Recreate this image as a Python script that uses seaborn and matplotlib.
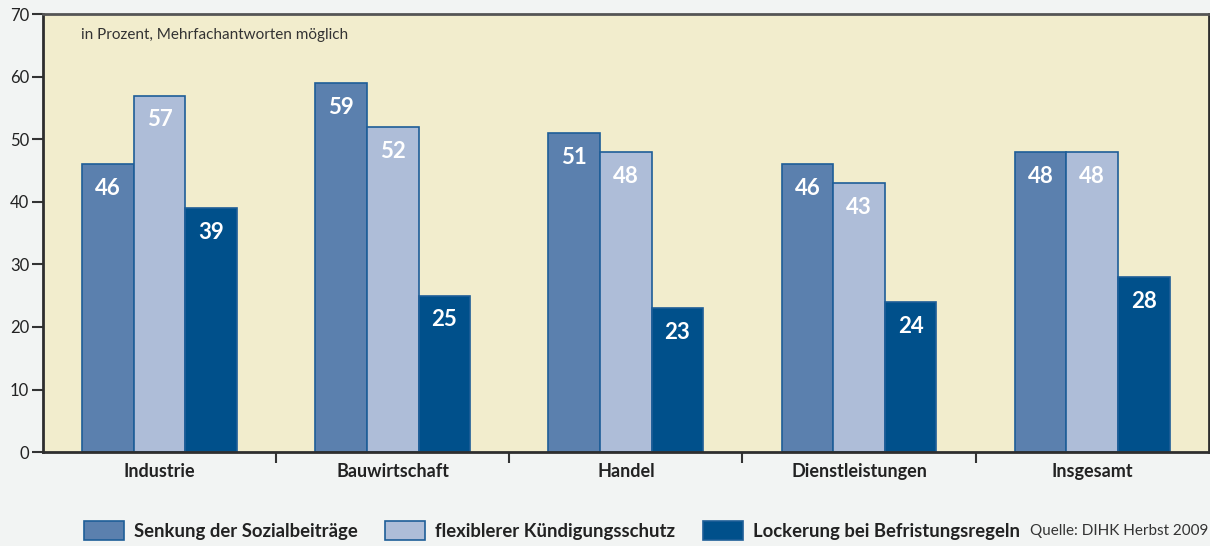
"""Grouped bar chart: Wunsch nach Reformen am Arbeitsmarkt nach Branchen (DIHK Herbst 2009)."""
import pandas as pd
import seaborn as sns
import matplotlib.pyplot as plt

# Data
categories = ["Industrie", "Bauwirtschaft", "Handel", "Dienstleistungen", "Insgesamt"]
series = ["Senkung der Sozialbeiträge", "flexiblerer Kündigungsschutz",
          "Lockerung bei Befristungsregeln"]
sozial = [46, 59, 51, 46, 48]
kuendigung = [57, 52, 48, 43, 48]
befristung = [39, 25, 23, 24, 28]
colors = ["#5B80AE", "#AEBDD8", "#00508B"]

rows = []
for name, vals in zip(series, [sozial, kuendigung, befristung]):
    for cat, v in zip(categories, vals):
        rows.append({"Branche": cat, "Wert": v, "Massnahme": name})
df = pd.DataFrame(rows)

sns.set_style("white")
plt.rcParams["font.family"] = ["Lato", "DejaVu Sans"]

fig = plt.figure(figsize=(12.1, 5.46), dpi=100, facecolor="#F2F4F3")
ax = fig.add_axes([0.0355, 0.172, 0.9635, 0.802])
ax.set_facecolor("#F2EDCD")

sns.barplot(data=df, x="Branche", y="Wert", hue="Massnahme", order=categories,
            hue_order=series, palette=colors, width=0.664, edgecolor="#1E5E98",
            linewidth=1.2, saturation=1, ax=ax, legend=True)

# value labels inside the bars
for cont in ax.containers:
    ax.bar_label(cont, padding=-25, color="white", fontsize=16, fontweight="bold")

ax.set_ylim(0, 70)
ax.set_xlim(-0.5, 4.5)
ax.set_yticks(range(0, 71, 10))
ax.tick_params(axis="y", direction="out", length=8, width=1.5, color="#333333",
               labelsize=12, labelcolor="#222222", pad=2, left=True)
ax.tick_params(axis="x", which="major", length=0, pad=8, labelsize=13,
               labelcolor="#222222")
ax.set_xticks([0.5, 1.5, 2.5, 3.5], minor=True)
ax.tick_params(axis="x", which="minor", direction="out", length=8, width=1.5,
               color="#333333", bottom=True)
for lab in ax.get_xticklabels():
    lab.set_fontweight("bold")
ax.set_xlabel("")
ax.set_ylabel("")

for side in ["left", "bottom", "right"]:
    ax.spines[side].set_color("#2E2E2E")
    ax.spines[side].set_linewidth(2)
ax.spines["top"].set_color("#555555")
ax.spines["top"].set_linewidth(2)

ax.text(0.033, 0.968, "in Prozent, Mehrfachantworten möglich", transform=ax.transAxes,
        fontsize=11, color="#333333", va="top")

# legend at the bottom
handles, labels = ax.get_legend_handles_labels()
ax.get_legend().remove()
leg = fig.legend(handles, labels, loc="center left", bbox_to_anchor=(0.0555, 0.028),
                 ncol=3, frameon=False, handlelength=2.16, handleheight=1.2,
                 handletextpad=0.54, columnspacing=1.5,
                 prop={"size": 13.3, "weight": "bold"})
for t in leg.get_texts():
    t.set_color("#222222")

fig.text(0.999, 0.028, "Quelle: DIHK Herbst 2009", ha="right", va="center",
         fontsize=11, color="#333333")

plt.savefig("out.png", dpi=100, facecolor=fig.get_facecolor())
